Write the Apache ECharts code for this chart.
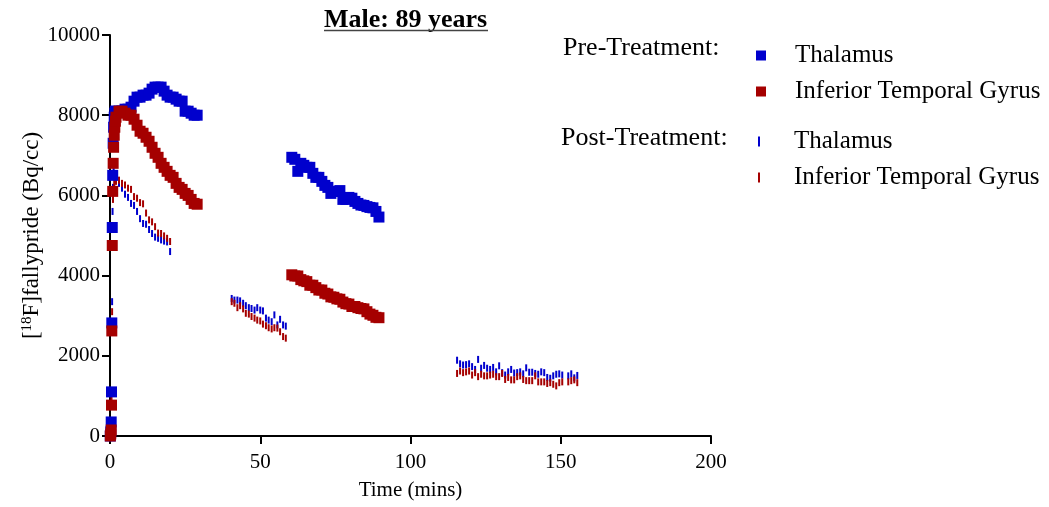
<!DOCTYPE html>
<html>
<head>
<meta charset="utf-8">
<script src="https://cdn.jsdelivr.net/npm/echarts@6/dist/echarts.min.js"></script>
<style>
  html, body { margin: 0; padding: 0; background: #fff; }
  #chart { width: 1049px; height: 507px; }
</style>
</head>
<body>
<div id="chart"></div>
<script>
// Frame mid-times (minutes) and regional activity (Bq/cc)
const preTime = [
  0.1, 0.25, 0.4, 0.5, 0.6, 0.75, 0.9, 1.05, 1.2, 1.4, 1.6, 1.8, 2.0,
  3, 4, 5, 6, 7, 8, 9, 10, 11, 12, 13, 14, 15, 16, 17, 18, 19, 20,
  21, 22, 23, 24, 25, 26, 27, 28, 29,
  60.5, 61.5, 62.5, 63.5, 64.5, 65.5, 66.5, 67.5, 68.5, 69.5,
  70.5, 71.5, 72.5, 73.5, 74.5, 75.5, 76.5, 77.5, 78.5, 79.5,
  80.5, 81.5, 82.5, 83.5, 84.5, 85.5, 86.5, 87.5, 88.5, 89.5
];
const preThalamus = [
  0, 100, 350, 1100, 2820, 5200, 6500, 7300, 7700, 7950, 8050, 8100, 8100,
  8100, 8100, 8150, 8150, 8200, 8350, 8450, 8450, 8500, 8500, 8550, 8650, 8700, 8700, 8700, 8600, 8500, 8450,
  8450, 8400, 8350, 8350, 8100, 8100, 8050, 8000, 8000,
  6950, 6900, 6600, 6800, 6750, 6700, 6700, 6550, 6450, 6450,
  6350, 6250, 6200, 6050, 6100, 6100, 6120, 5900, 5900, 5950,
  5930, 5850, 5800, 5760, 5750, 5720, 5700, 5690, 5600, 5460
];
const preITG = [
  0, 50, 150, 770, 2620, 4750, 6100, 6800, 7200, 7500, 7700, 7850, 7950,
  8100, 8100, 8050, 8000, 8000, 7900, 7750, 7600, 7550, 7450, 7350, 7200, 7050, 6950, 6800, 6700, 6600, 6500,
  6450, 6300, 6200, 6150, 6050, 6000, 5900, 5800, 5780,
  4020, 3990, 3990, 3900, 3870, 3850, 3760, 3760, 3700, 3640,
  3640, 3560, 3540, 3470, 3460, 3420, 3410, 3340, 3300, 3290,
  3230, 3230, 3200, 3180, 3170, 3100, 3040, 3010, 2960, 2950
];

const postTime = [
  0.1, 0.3, 0.5, 0.7, 0.85, 1.0, 1.2, 1.4, 1.7, 2.0,
  3, 4, 5, 6, 7, 8, 9, 10, 11, 12, 13, 14, 15, 16, 17, 18, 19, 20,
  40.5, 41.4, 42.4, 43.3, 44.3, 45.2, 46.2, 47.1, 48.1, 49.0,
  50.0, 50.9, 51.9, 52.8, 53.8, 54.7, 55.7, 56.6, 57.6, 58.5,
  115.5, 116.5, 117.5, 118.5, 119.5, 120.5, 121.5, 122.5, 123.5, 124.5,
  125.5, 126.5, 127.5, 128.5, 129.5, 130.5, 131.5, 132.5, 133.5, 134.5,
  135.5, 136.5, 137.5, 138.5, 139.5, 140.5, 141.5, 142.5, 143.5, 144.5,
  145.5, 146.5, 147.5, 148.5, 149.5, 150.5, 152.5, 153.5, 154.5, 155.5
];
const postThalamus = [
  0, 150, 1100, 3350, 5600, 6200, 6600, 6550, 6450, 6400,
  6300, 6180, 6030, 5950, 5800, 5750, 5600, 5420, 5300, 5280, 5150, 5050, 4960, 4930, 4890, 4860, 4840, 4600,
  3430, 3390, 3390, 3370, 3310, 3250, 3200, 3180, 3140, 3200,
  3140, 3120, 2940, 2890, 2850, 3020, 2770, 2910, 2770, 2740,
  1890, 1800, 1770, 1780, 1800, 1730, 1660, 1910, 1690, 1760,
  1690, 1660, 1710, 1600, 1750, 1580, 1520, 1600, 1660, 1570,
  1580, 1600, 1550, 1700, 1590, 1590, 1560, 1540, 1600, 1580,
  1460, 1440, 1500, 1540, 1550, 1520, 1500, 1550, 1450, 1510
];
const postITG = [
  0, 100, 980, 3100, 5200, 5900, 6100, 6300, 6150, 6350,
  6380, 6300, 6260, 6180, 6150, 5970, 5930, 5820, 5790, 5560, 5390, 5340, 5220, 5060, 5050, 4990, 4930, 4850,
  3350, 3310, 3200, 3250, 3170, 3060, 3040, 2980, 2940, 2890,
  2870, 2790, 2750, 2700, 2670, 2700, 2690, 2600, 2480, 2440,
  1560, 1620, 1580, 1600, 1620, 1520, 1580, 1480, 1540, 1500,
  1500, 1520, 1540, 1480, 1480, 1560, 1410, 1460, 1400, 1400,
  1480, 1500, 1410, 1380, 1380, 1380, 1500, 1350, 1350, 1350,
  1310, 1330, 1290, 1250, 1330, 1350, 1350, 1380, 1400, 1330
];

const BLUE = '#0000cd';
const RED = '#a50000';
const FONT = 'Liberation Serif';

function pairs(xs, ys) {
  return xs.map((x, i) => [x, ys[i]]);
}

const chart = echarts.init(document.getElementById('chart'), null, { renderer: 'canvas' });

// Legend entries show only the region name, in the serif face
const shortName = (name) => '{t|' + name.replace(/^P\w+-Treatment /, '') + '}';
const legendRich = (pad) => ({
  fontFamily: FONT, fontSize: 25, color: '#000',
  rich: { t: { fontFamily: FONT, fontSize: 25, lineHeight: 24, color: '#000', padding: [0, 0, 0, pad] } }
});

chart.setOption({
  animation: false,
  backgroundColor: '#fff',
  textStyle: { fontFamily: FONT },
  grid: { left: 110, right: 338, top: 35, bottom: 71, containLabel: false },
  xAxis: {
    type: 'value', min: 0, max: 200, interval: 50,
    name: 'Time (mins)', nameLocation: 'middle', nameGap: 44,
    nameTextStyle: { fontFamily: FONT, fontSize: 21, color: '#000' },
    axisLine: { show: true, onZero: false, lineStyle: { color: '#000', width: 2 } },
    axisTick: { show: true, length: 8, lineStyle: { color: '#000', width: 2 } },
    axisLabel: { fontFamily: FONT, fontSize: 21, color: '#000', margin: 16 },
    splitLine: { show: false }
  },
  yAxis: {
    type: 'value', min: 0, max: 10000, interval: 2000,
    name: '[{sup|18}F]fallypride (Bq/cc)', nameLocation: 'middle', nameGap: 67,
    nameMoveOverlap: false,
    nameTextStyle: {
      fontFamily: FONT, fontSize: 23, color: '#000',
      rich: { sup: { fontFamily: FONT, fontSize: 15, color: '#000', verticalAlign: 'top', padding: [0, 0, 8, 0] } }
    },
    axisLine: { show: true, onZero: false, lineStyle: { color: '#000', width: 2 } },
    axisTick: { show: true, length: 8, lineStyle: { color: '#000', width: 2 } },
    axisLabel: { fontFamily: FONT, fontSize: 21, color: '#000', margin: 10, formatter: (v) => String(v) },
    splitLine: { show: false }
  },
  legend: [
    {
      data: ['Pre-Treatment Thalamus', 'Pre-Treatment Inferior Temporal Gyrus'],
      orient: 'vertical', left: 756, top: 43, padding: 0, itemGap: 11,
      itemWidth: 10, itemHeight: 10, icon: 'rect', selectedMode: false,
      formatter: shortName,
      textStyle: legendRich(24)
    },
    {
      data: ['Post-Treatment Thalamus', 'Post-Treatment Inferior Temporal Gyrus'],
      orient: 'vertical', left: 758, top: 129, padding: 0, itemGap: 11,
      itemWidth: 2, itemHeight: 10, icon: 'rect', selectedMode: false,
      formatter: shortName,
      textStyle: legendRich(29)
    }
  ],
  graphic: [
    {
      type: 'text', left: 324, top: 7,
      style: { text: 'Male: 89 years', fontFamily: FONT, fontSize: 26, fontWeight: 'bold', fill: '#000' }
    },
    {
      type: 'line', shape: { x1: 324, y1: 30.5, x2: 488, y2: 30.5 },
      style: { stroke: '#444', lineWidth: 1.5 }
    },
    {
      type: 'text', left: 563, top: 35,
      style: { text: 'Pre-Treatment:', fontFamily: FONT, fontSize: 26, fill: '#000' }
    },
    {
      type: 'text', left: 561, top: 125,
      style: { text: 'Post-Treatment:', fontFamily: FONT, fontSize: 26, fill: '#000' }
    }
  ],
  series: [
    {
      name: 'Post-Treatment Thalamus', type: 'scatter', symbol: 'rect', symbolSize: [2, 7],
      itemStyle: { color: BLUE, opacity: 1 }, data: pairs(postTime, postThalamus), z: 2
    },
    {
      name: 'Post-Treatment Inferior Temporal Gyrus', type: 'scatter', symbol: 'rect', symbolSize: [2, 7],
      itemStyle: { color: RED, opacity: 1 }, data: pairs(postTime, postITG), z: 2
    },
    {
      name: 'Pre-Treatment Thalamus', type: 'scatter', symbol: 'rect', symbolSize: 11,
      itemStyle: { color: BLUE, opacity: 1 }, data: pairs(preTime, preThalamus), z: 3
    },
    {
      name: 'Pre-Treatment Inferior Temporal Gyrus', type: 'scatter', symbol: 'rect', symbolSize: 11,
      itemStyle: { color: RED, opacity: 1 }, data: pairs(preTime, preITG), z: 3
    }
  ]
});
</script>
</body>
</html>
